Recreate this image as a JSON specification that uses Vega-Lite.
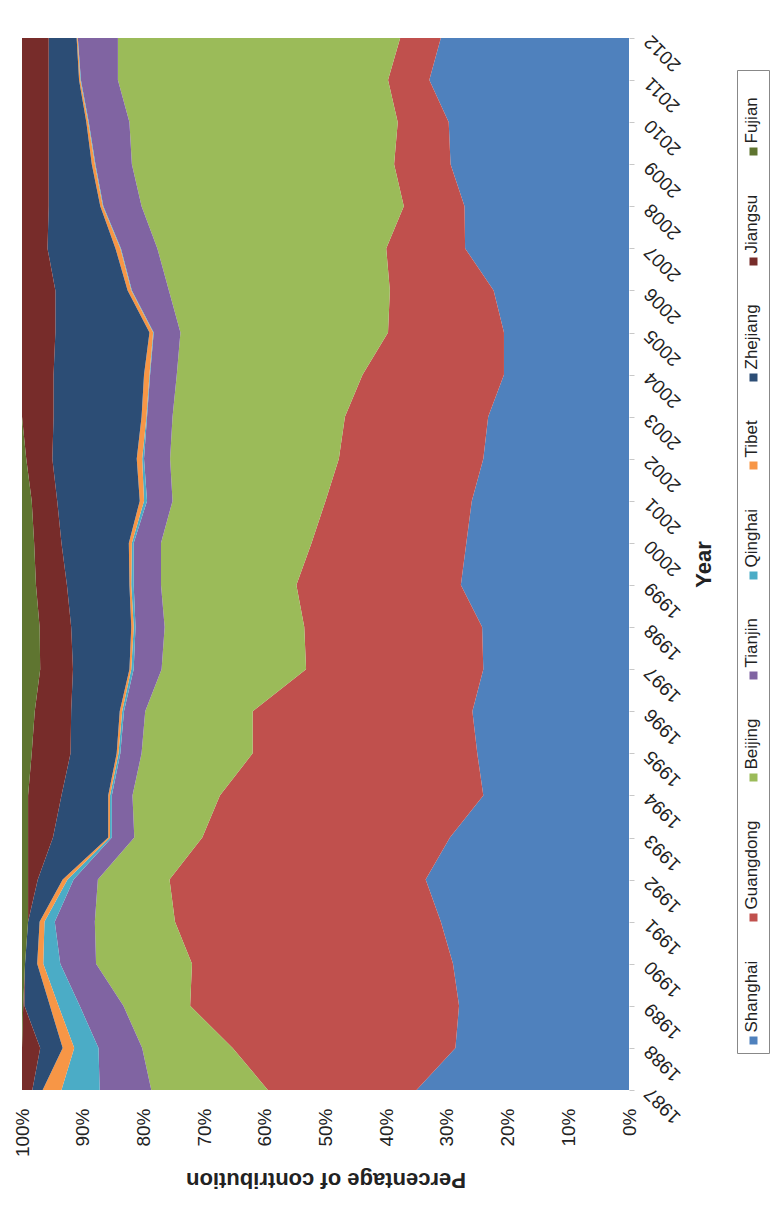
{
  "$schema": "https://vega.github.io/schema/vega-lite/v6.json",
  "width": 607,
  "height": 1052,
  "autosize": {"type": "none"},
  "padding": {"left": 22, "top": 38, "right": 144, "bottom": 116},
  "background": "white",
  "config": {"view": {"stroke": null}, "font": "Liberation Sans"},
  "data": {
    "values": [
      {"year": 1987, "province": "Shanghai", "share": 35}, {"year": 1987, "province": "Guangdong", "share": 24.5}, {"year": 1987, "province": "Beijing", "share": 19.2}, {"year": 1987, "province": "Tianjin", "share": 8.5}, {"year": 1987, "province": "Qinghai", "share": 6.3}, {"year": 1987, "province": "Tibet", "share": 3.1}, {"year": 1987, "province": "Zhejiang", "share": 1.7}, {"year": 1987, "province": "Jiangsu", "share": 1.7}, {"year": 1987, "province": "Fujian", "share": 0},
      {"year": 1988, "province": "Shanghai", "share": 28.6}, {"year": 1988, "province": "Guangdong", "share": 36.7}, {"year": 1988, "province": "Beijing", "share": 14.9}, {"year": 1988, "province": "Tianjin", "share": 7.2}, {"year": 1988, "province": "Qinghai", "share": 4.0}, {"year": 1988, "province": "Tibet", "share": 1.9}, {"year": 1988, "province": "Zhejiang", "share": 3.7}, {"year": 1988, "province": "Jiangsu", "share": 3.0}, {"year": 1988, "province": "Fujian", "share": 0},
      {"year": 1989, "province": "Shanghai", "share": 28}, {"year": 1989, "province": "Guangdong", "share": 44.3}, {"year": 1989, "province": "Beijing", "share": 11}, {"year": 1989, "province": "Tianjin", "share": 7.2}, {"year": 1989, "province": "Qinghai", "share": 3.5}, {"year": 1989, "province": "Tibet", "share": 1.4}, {"year": 1989, "province": "Zhejiang", "share": 4.2}, {"year": 1989, "province": "Jiangsu", "share": 0.2}, {"year": 1989, "province": "Fujian", "share": 0.2},
      {"year": 1990, "province": "Shanghai", "share": 29}, {"year": 1990, "province": "Guangdong", "share": 43}, {"year": 1990, "province": "Beijing", "share": 15.8}, {"year": 1990, "province": "Tianjin", "share": 5.9}, {"year": 1990, "province": "Qinghai", "share": 2.8}, {"year": 1990, "province": "Tibet", "share": 1.0}, {"year": 1990, "province": "Zhejiang", "share": 2.0}, {"year": 1990, "province": "Jiangsu", "share": 0}, {"year": 1990, "province": "Fujian", "share": 0.5},
      {"year": 1991, "province": "Shanghai", "share": 31}, {"year": 1991, "province": "Guangdong", "share": 43.8}, {"year": 1991, "province": "Beijing", "share": 13.2}, {"year": 1991, "province": "Tianjin", "share": 6.6}, {"year": 1991, "province": "Qinghai", "share": 1.7}, {"year": 1991, "province": "Tibet", "share": 0.8}, {"year": 1991, "province": "Zhejiang", "share": 1.9}, {"year": 1991, "province": "Jiangsu", "share": 0}, {"year": 1991, "province": "Fujian", "share": 1.0},
      {"year": 1992, "province": "Shanghai", "share": 33.5}, {"year": 1992, "province": "Guangdong", "share": 42.2}, {"year": 1992, "province": "Beijing", "share": 11.8}, {"year": 1992, "province": "Tianjin", "share": 4.0}, {"year": 1992, "province": "Qinghai", "share": 1.0}, {"year": 1992, "province": "Tibet", "share": 0.8}, {"year": 1992, "province": "Zhejiang", "share": 4.1}, {"year": 1992, "province": "Jiangsu", "share": 1.6}, {"year": 1992, "province": "Fujian", "share": 1.0},
      {"year": 1993, "province": "Shanghai", "share": 29.5}, {"year": 1993, "province": "Guangdong", "share": 40.8}, {"year": 1993, "province": "Beijing", "share": 11.2}, {"year": 1993, "province": "Tianjin", "share": 3.7}, {"year": 1993, "province": "Qinghai", "share": 0.3}, {"year": 1993, "province": "Tibet", "share": 0.3}, {"year": 1993, "province": "Zhejiang", "share": 9.1}, {"year": 1993, "province": "Jiangsu", "share": 4.1}, {"year": 1993, "province": "Fujian", "share": 1.0},
      {"year": 1994, "province": "Shanghai", "share": 24}, {"year": 1994, "province": "Guangdong", "share": 43.4}, {"year": 1994, "province": "Beijing", "share": 14.4}, {"year": 1994, "province": "Tianjin", "share": 3.4}, {"year": 1994, "province": "Qinghai", "share": 0.3}, {"year": 1994, "province": "Tibet", "share": 0.3}, {"year": 1994, "province": "Zhejiang", "share": 7.7}, {"year": 1994, "province": "Jiangsu", "share": 5.5}, {"year": 1994, "province": "Fujian", "share": 1.0},
      {"year": 1995, "province": "Shanghai", "share": 25}, {"year": 1995, "province": "Guangdong", "share": 37}, {"year": 1995, "province": "Beijing", "share": 18.3}, {"year": 1995, "province": "Tianjin", "share": 3.5}, {"year": 1995, "province": "Qinghai", "share": 0.3}, {"year": 1995, "province": "Tibet", "share": 0.3}, {"year": 1995, "province": "Zhejiang", "share": 7.6}, {"year": 1995, "province": "Jiangsu", "share": 6.4}, {"year": 1995, "province": "Fujian", "share": 1.6},
      {"year": 1996, "province": "Shanghai", "share": 25.8}, {"year": 1996, "province": "Guangdong", "share": 36.2}, {"year": 1996, "province": "Beijing", "share": 17.7}, {"year": 1996, "province": "Tianjin", "share": 3.5}, {"year": 1996, "province": "Qinghai", "share": 0.3}, {"year": 1996, "province": "Tibet", "share": 0.4}, {"year": 1996, "province": "Zhejiang", "share": 8.0}, {"year": 1996, "province": "Jiangsu", "share": 6.0}, {"year": 1996, "province": "Fujian", "share": 2.1},
      {"year": 1997, "province": "Shanghai", "share": 24}, {"year": 1997, "province": "Guangdong", "share": 29.2}, {"year": 1997, "province": "Beijing", "share": 23.8}, {"year": 1997, "province": "Tianjin", "share": 4.6}, {"year": 1997, "province": "Qinghai", "share": 0.4}, {"year": 1997, "province": "Tibet", "share": 0.3}, {"year": 1997, "province": "Zhejiang", "share": 9.3}, {"year": 1997, "province": "Jiangsu", "share": 5.4}, {"year": 1997, "province": "Fujian", "share": 3.0},
      {"year": 1998, "province": "Shanghai", "share": 24.2}, {"year": 1998, "province": "Guangdong", "share": 29.3}, {"year": 1998, "province": "Beijing", "share": 23.0}, {"year": 1998, "province": "Tianjin", "share": 4.8}, {"year": 1998, "province": "Qinghai", "share": 0.3}, {"year": 1998, "province": "Tibet", "share": 0.4}, {"year": 1998, "province": "Zhejiang", "share": 9.9}, {"year": 1998, "province": "Jiangsu", "share": 5.2}, {"year": 1998, "province": "Fujian", "share": 2.9},
      {"year": 1999, "province": "Shanghai", "share": 27.7}, {"year": 1999, "province": "Guangdong", "share": 27.1}, {"year": 1999, "province": "Beijing", "share": 22.3}, {"year": 1999, "province": "Tianjin", "share": 4.5}, {"year": 1999, "province": "Qinghai", "share": 0.4}, {"year": 1999, "province": "Tibet", "share": 0.3}, {"year": 1999, "province": "Zhejiang", "share": 10.3}, {"year": 1999, "province": "Jiangsu", "share": 5.1}, {"year": 1999, "province": "Fujian", "share": 2.3},
      {"year": 2000, "province": "Shanghai", "share": 26.8}, {"year": 2000, "province": "Guangdong", "share": 25.5}, {"year": 2000, "province": "Beijing", "share": 24.8}, {"year": 2000, "province": "Tianjin", "share": 4.5}, {"year": 2000, "province": "Qinghai", "share": 0.3}, {"year": 2000, "province": "Tibet", "share": 0.5}, {"year": 2000, "province": "Zhejiang", "share": 11.1}, {"year": 2000, "province": "Jiangsu", "share": 4.5}, {"year": 2000, "province": "Fujian", "share": 2.0},
      {"year": 2001, "province": "Shanghai", "share": 25.9}, {"year": 2001, "province": "Guangdong", "share": 24.1}, {"year": 2001, "province": "Beijing", "share": 25.2}, {"year": 2001, "province": "Tianjin", "share": 4.2}, {"year": 2001, "province": "Qinghai", "share": 0.5}, {"year": 2001, "province": "Tibet", "share": 0.7}, {"year": 2001, "province": "Zhejiang", "share": 13.6}, {"year": 2001, "province": "Jiangsu", "share": 4.2}, {"year": 2001, "province": "Fujian", "share": 1.6},
      {"year": 2002, "province": "Shanghai", "share": 24}, {"year": 2002, "province": "Guangdong", "share": 23.8}, {"year": 2002, "province": "Beijing", "share": 27.8}, {"year": 2002, "province": "Tianjin", "share": 4.3}, {"year": 2002, "province": "Qinghai", "share": 0.3}, {"year": 2002, "province": "Tibet", "share": 0.9}, {"year": 2002, "province": "Zhejiang", "share": 13.9}, {"year": 2002, "province": "Jiangsu", "share": 4.3}, {"year": 2002, "province": "Fujian", "share": 0.7},
      {"year": 2003, "province": "Shanghai", "share": 23.2}, {"year": 2003, "province": "Guangdong", "share": 23.6}, {"year": 2003, "province": "Beijing", "share": 28.4}, {"year": 2003, "province": "Tianjin", "share": 4.2}, {"year": 2003, "province": "Qinghai", "share": 0.1}, {"year": 2003, "province": "Tibet", "share": 0.8}, {"year": 2003, "province": "Zhejiang", "share": 14.5}, {"year": 2003, "province": "Jiangsu", "share": 5.2}, {"year": 2003, "province": "Fujian", "share": 0},
      {"year": 2004, "province": "Shanghai", "share": 20.6}, {"year": 2004, "province": "Guangdong", "share": 23.3}, {"year": 2004, "province": "Beijing", "share": 30.6}, {"year": 2004, "province": "Tianjin", "share": 4.4}, {"year": 2004, "province": "Qinghai", "share": 0.1}, {"year": 2004, "province": "Tibet", "share": 0.9}, {"year": 2004, "province": "Zhejiang", "share": 14.9}, {"year": 2004, "province": "Jiangsu", "share": 5.2}, {"year": 2004, "province": "Fujian", "share": 0},
      {"year": 2005, "province": "Shanghai", "share": 20.6}, {"year": 2005, "province": "Guangdong", "share": 19.1}, {"year": 2005, "province": "Beijing", "share": 34.2}, {"year": 2005, "province": "Tianjin", "share": 4.4}, {"year": 2005, "province": "Qinghai", "share": 0.1}, {"year": 2005, "province": "Tibet", "share": 0.6}, {"year": 2005, "province": "Zhejiang", "share": 15.5}, {"year": 2005, "province": "Jiangsu", "share": 5.5}, {"year": 2005, "province": "Fujian", "share": 0},
      {"year": 2006, "province": "Shanghai", "share": 22.3}, {"year": 2006, "province": "Guangdong", "share": 17.1}, {"year": 2006, "province": "Beijing", "share": 36.4}, {"year": 2006, "province": "Tianjin", "share": 6.1}, {"year": 2006, "province": "Qinghai", "share": 0.1}, {"year": 2006, "province": "Tibet", "share": 0.6}, {"year": 2006, "province": "Zhejiang", "share": 11.9}, {"year": 2006, "province": "Jiangsu", "share": 5.5}, {"year": 2006, "province": "Fujian", "share": 0},
      {"year": 2007, "province": "Shanghai", "share": 27}, {"year": 2007, "province": "Guangdong", "share": 13}, {"year": 2007, "province": "Beijing", "share": 37.7}, {"year": 2007, "province": "Tianjin", "share": 6.0}, {"year": 2007, "province": "Qinghai", "share": 0.1}, {"year": 2007, "province": "Tibet", "share": 0.8}, {"year": 2007, "province": "Zhejiang", "share": 11.2}, {"year": 2007, "province": "Jiangsu", "share": 4.2}, {"year": 2007, "province": "Fujian", "share": 0},
      {"year": 2008, "province": "Shanghai", "share": 27.1}, {"year": 2008, "province": "Guangdong", "share": 10}, {"year": 2008, "province": "Beijing", "share": 43.2}, {"year": 2008, "province": "Tianjin", "share": 6.3}, {"year": 2008, "province": "Qinghai", "share": 0.1}, {"year": 2008, "province": "Tibet", "share": 0.4}, {"year": 2008, "province": "Zhejiang", "share": 8.5}, {"year": 2008, "province": "Jiangsu", "share": 4.4}, {"year": 2008, "province": "Fujian", "share": 0},
      {"year": 2009, "province": "Shanghai", "share": 29.4}, {"year": 2009, "province": "Guangdong", "share": 9.3}, {"year": 2009, "province": "Beijing", "share": 43.2}, {"year": 2009, "province": "Tianjin", "share": 6.0}, {"year": 2009, "province": "Qinghai", "share": 0.1}, {"year": 2009, "province": "Tibet", "share": 0.5}, {"year": 2009, "province": "Zhejiang", "share": 7.1}, {"year": 2009, "province": "Jiangsu", "share": 4.4}, {"year": 2009, "province": "Fujian", "share": 0},
      {"year": 2010, "province": "Shanghai", "share": 29.7}, {"year": 2010, "province": "Guangdong", "share": 8.4}, {"year": 2010, "province": "Beijing", "share": 44.2}, {"year": 2010, "province": "Tianjin", "share": 6.7}, {"year": 2010, "province": "Qinghai", "share": 0.1}, {"year": 2010, "province": "Tibet", "share": 0.3}, {"year": 2010, "province": "Zhejiang", "share": 6.2}, {"year": 2010, "province": "Jiangsu", "share": 4.4}, {"year": 2010, "province": "Fujian", "share": 0},
      {"year": 2011, "province": "Shanghai", "share": 32.9}, {"year": 2011, "province": "Guangdong", "share": 6.8}, {"year": 2011, "province": "Beijing", "share": 44.5}, {"year": 2011, "province": "Tianjin", "share": 6.1}, {"year": 2011, "province": "Qinghai", "share": 0.1}, {"year": 2011, "province": "Tibet", "share": 0.2}, {"year": 2011, "province": "Zhejiang", "share": 5.0}, {"year": 2011, "province": "Jiangsu", "share": 4.4}, {"year": 2011, "province": "Fujian", "share": 0},
      {"year": 2012, "province": "Shanghai", "share": 31}, {"year": 2012, "province": "Guangdong", "share": 6.7}, {"year": 2012, "province": "Beijing", "share": 46.5}, {"year": 2012, "province": "Tianjin", "share": 6.6}, {"year": 2012, "province": "Qinghai", "share": 0.05}, {"year": 2012, "province": "Tibet", "share": 0.15}, {"year": 2012, "province": "Zhejiang", "share": 4.6}, {"year": 2012, "province": "Jiangsu", "share": 4.4}, {"year": 2012, "province": "Fujian", "share": 0}
    ]
  },
  "transform": [
    {"calculate": "indexof(['Shanghai','Guangdong','Beijing','Tianjin','Qinghai','Tibet','Zhejiang','Jiangsu','Fujian'], datum.province)", "as": "stackOrder"}
  ],
  "mark": {"type": "area", "orient": "horizontal", "interpolate": "linear"},
  "encoding": {
    "x": {
      "field": "share",
      "type": "quantitative",
      "stack": "normalize",
      "scale": {"domain": [0, 1], "reverse": true, "nice": false},
      "axis": {
        "title": "Percentage of contribution",
        "orient": "bottom",
        "format": ".0%",
        "values": [0, 0.1, 0.2, 0.3, 0.4, 0.5, 0.6, 0.7, 0.8, 0.9, 1],
        "grid": false,
        "domain": false,
        "ticks": false,
        "labelAngle": -90,
        "labelAlign": "right",
        "labelBaseline": "middle",
        "labelFlush": false,
        "labelOverlap": false,
        "labelPadding": 18,
        "labelFontSize": 19,
        "labelColor": "#222222",
        "titleAngle": 180,
        "titleBaseline": "bottom",
        "titleFontSize": 22,
        "titleFontWeight": "bold",
        "titleColor": "#222222",
        "titlePadding": 11
      }
    },
    "y": {
      "field": "year",
      "type": "quantitative",
      "scale": {"domain": [1987, 2012], "nice": false, "zero": false},
      "axis": {
        "title": "Year",
        "orient": "right",
        "format": "d",
        "values": [1987, 1988, 1989, 1990, 1991, 1992, 1993, 1994, 1995, 1996, 1997, 1998, 1999, 2000, 2001, 2002, 2003, 2004, 2005, 2006, 2007, 2008, 2009, 2010, 2011, 2012],
        "grid": false,
        "domain": false,
        "tickSize": 5,
        "tickColor": "#c8c8c8",
        "labelAngle": -135,
        "labelAlign": "right",
        "labelBaseline": "middle",
        "labelFlush": false,
        "labelOverlap": false,
        "labelPadding": 13,
        "labelFontSize": 19,
        "labelColor": "#222222",
        "titleAngle": -90,
        "titleBaseline": "top",
        "titleFontSize": 22,
        "titleFontWeight": "bold",
        "titleColor": "#222222",
        "titlePadding": 10
      }
    },
    "color": {
      "field": "province",
      "type": "nominal",
      "scale": {
        "domain": ["Fujian", "Jiangsu", "Zhejiang", "Tibet", "Qinghai", "Tianjin", "Beijing", "Guangdong", "Shanghai"],
        "range": ["#5F7530", "#772C2A", "#2C4D75", "#F79646", "#4BACC6", "#8064A2", "#9BBB59", "#C0504D", "#4F81BD"]
      },
      "legend": {
        "title": " ",
        "titleFontSize": 45,
        "titlePadding": 20,
        "orient": "none",
        "legendX": 715,
        "legendY": 32,
        "direction": "vertical",
        "symbolType": "square",
        "symbolSize": 64,
        "symbolStrokeWidth": 0,
        "labelFontSize": 17,
        "labelColor": "#222222",
        "labelOffset": -4,
        "labelAlign": "left",
        "labelBaseline": "middle",
        "rowPadding": 38,
        "padding": 8,
        "strokeColor": "#888888",
        "encode": {
          "labels": {"update": {"angle": {"value": -90}, "dx": {"value": 8}, "dy": {"value": -6}}}
        }
      }
    },
    "order": {"field": "stackOrder", "type": "quantitative", "sort": "ascending"}
  }
}
